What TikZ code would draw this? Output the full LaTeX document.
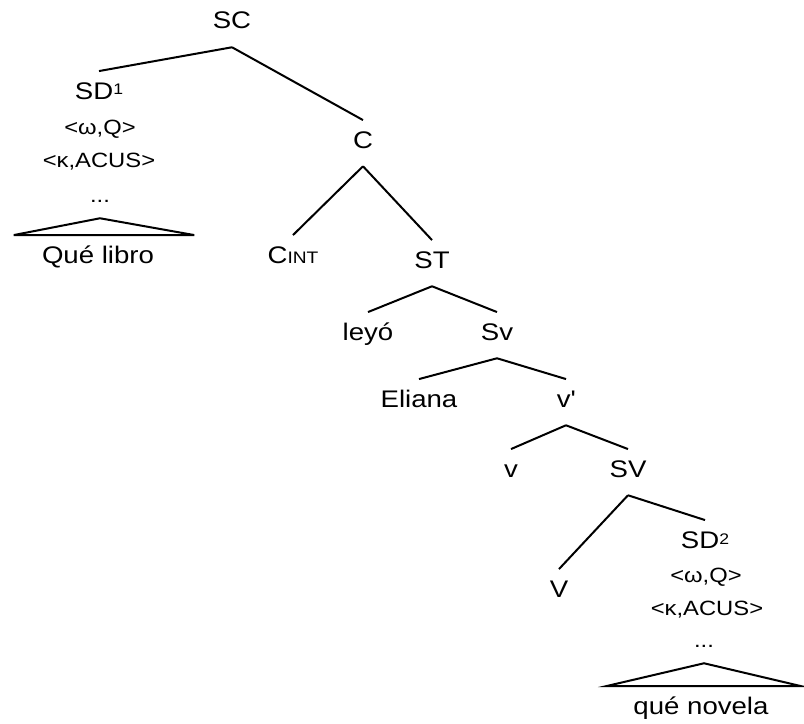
\documentclass[tikz,border=0pt]{standalone}
\usepackage{fontspec}
\setmainfont{Liberation Sans}[FakeStretch=1.15]
\usepackage{tikz}

\newcommand{\supnum}[1]{\raisebox{3pt}{\fontsize{11.5pt}{12pt}\selectfont #1}}

\begin{document}
\begin{tikzpicture}[
  x=0.75pt, y=-0.75pt,
  lab/.style={anchor=base, inner xsep=0pt, inner ysep=8.25pt, text height=12.5pt, text depth=5.25pt, font=\fontsize{18pt}{21pt}\selectfont},
  feat/.style={anchor=base, inner xsep=0pt, inner ysep=6pt, text height=11pt, text depth=6pt, font=\fontsize{15.5pt}{18pt}\selectfont},
  branch/.style={line width=1.5pt},
  tri/.style={line width=1.5pt, line join=miter}
]
\useasboundingbox (0,0) rectangle (804,724);

\node[lab] (sc) at (232,29) {SC};
\node[lab] (sdA) at (99,99) {SD\supnum{1}};
\node[feat] (wA) at (100,135) {<ω,Q>};
\node[feat] (kA) at (99,167) {<κ,ACUS>};
\node[feat] (dotsA) at (100,202) {...};
\node[lab] (libro) at (98,263) {Qué libro};
\node[lab] (c) at (363,148) {C};
\node[lab] (cint) at (293,263) {C{\fontsize{12.5pt}{14pt}\selectfont INT}};
\node[lab] (st) at (432,268) {ST};
\node[lab] (leyo) at (368,340) {leyó};
\node[lab] (svp) at (497,340) {Sv};
\node[lab] (eliana) at (419,407) {Eliana};
\node[lab] (vbar) at (566,407) {v\textquotesingle};
\node[lab] (vlow) at (511,477) {v};
\node[lab] (svbig) at (628,477) {SV};
\node[lab] (vhead) at (559,597) {V};
\node[lab] (sdB) at (705,548) {SD\supnum{2}};
\node[feat] (wB) at (706,582) {<ω,Q>};
\node[feat] (kB) at (707,615) {<κ,ACUS>};
\node[feat] (dotsB) at (704,647) {...};
\node[lab] (novela) at (701,714) {qué novela};

\draw[branch] (sc.south) -- (sdA.north);
\draw[branch] (sc.south) -- (c.north);
\draw[branch] (c.south) -- (cint.north);
\draw[branch] (c.south) -- (st.north);
\draw[branch] (st.south) -- (leyo.north);
\draw[branch] (st.south) -- (svp.north);
\draw[branch] (svp.south) -- (eliana.north);
\draw[branch] (svp.south) -- (vbar.north);
\draw[branch] (vbar.south) -- (vlow.north);
\draw[branch] (vbar.south) -- (svbig.north);
\draw[branch] (svbig.south) -- (vhead.north);
\draw[branch] (svbig.south) -- (sdB.north);

\draw[tri] (dotsA.south) -- ([xshift=-21pt]libro.north west) -- ([xshift=30pt]libro.north east) -- cycle;
\draw[tri] (dotsB.south) -- ([xshift=-20pt]novela.north west) -- ([xshift=24pt]novela.north east) -- cycle;
\end{tikzpicture}
\end{document}
